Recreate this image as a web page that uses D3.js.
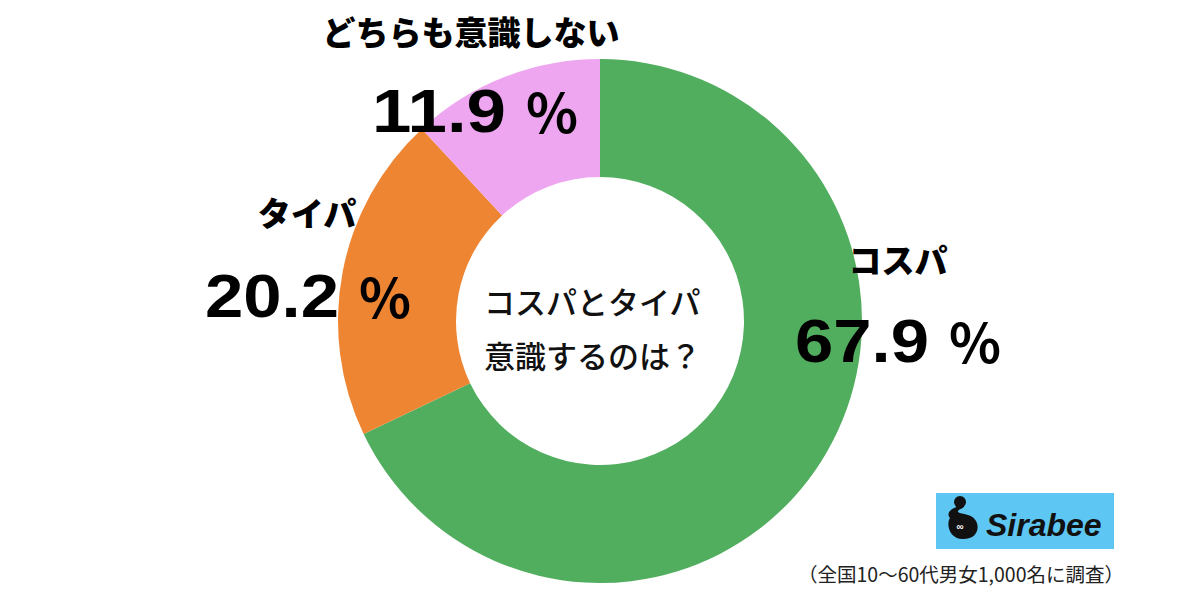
<!DOCTYPE html>
<html><head><meta charset="utf-8">
<script src="https://cdn.jsdelivr.net/npm/d3@7"></script>
<style>html,body{margin:0;padding:0;background:#fff;}svg{display:block;}</style>
</head><body>
<svg id="chart" width="1200" height="594"></svg>
<script>
const categories = ["コスパ", "タイパ", "どちらも意識しない"];
const values = [67.9, 20.2, 11.9];
const colors = ["#52ae5f", "#ee8533", "#eea6f0"];
const titleLines = ["コスパとタイパ", "意識するのは？"];
const footnote = "（全国10〜60代男女1,000名に調査）";

const svg = d3.select("#chart");
const cx = 600, cy = 321, rOut = 262, rIn = 144;
const jp = "'Noto Sans CJK JP', sans-serif";
const num = "'Liberation Sans', Arial, sans-serif";

const pie = d3.pie().sort(null).value(d => d)(values);
const arc = d3.arc().innerRadius(rIn).outerRadius(rOut);
const g = svg.append("g").attr("transform", `translate(${cx},${cy})`);
g.selectAll("path").data(pie).join("path")
  .attr("d", arc).attr("fill", (d, i) => colors[i]);

// labels
const labelPos = [
  {lx: 898, ly: 259, nx: 795, ny: 362},
  {lx: 307, ly: 212, nx: 205, ny: 317},
  {lx: 471, ly: 31, nx: 372, ny: 132}
];
categories.forEach((c, i) => {
  const p = labelPos[i];
  svg.append("text").attr("x", p.lx).attr("y", p.ly)
    .attr("text-anchor", "middle").attr("dominant-baseline", "central")
    .attr("font-family", jp).attr("font-weight", 900).attr("font-size", 33)
    .attr("fill", "#000").text(c);
  svg.append("text").attr("x", p.nx).attr("y", p.ny)
    .attr("fill", "#000")
    .attr("font-family", num).attr("font-weight", 700).attr("font-size", 62)
    .attr("textLength", 134).attr("lengthAdjust", "spacingAndGlyphs")
    .text(values[i].toFixed(1));
  svg.append("text").attr("x", p.nx + 154).attr("y", p.ny + 1)
    .attr("fill", "#000")
    .attr("font-family", jp).attr("font-weight", 700).attr("font-size", 54)
    .text("%");
});

// center title
titleLines.forEach((s, i) => {
  svg.append("text").attr("x", 484).attr("y", 300 + i * 54)
    .attr("dominant-baseline", "central")
    .attr("font-family", jp).attr("font-weight", 500).attr("font-size", 31)
    .attr("fill", "#111").text(s);
});

// logo
const lg = svg.append("g");
lg.append("rect").attr("x", 936).attr("y", 493).attr("width", 178).attr("height", 56).attr("fill", "#5ec6f2");
lg.append("path").attr("d", "M960,506 C950,508 946,514 950,518 C946,524 949,539 963,539 C977,539 980,528 976,521 C972,513 962,515 958,512 C957,509 965,509 964,505 Z").attr("fill", "#111");
lg.append("circle").attr("cx", 960).attr("cy", 502).attr("r", 6).attr("fill", "#111");
lg.append("text").attr("x", 960).attr("y", 530).attr("text-anchor", "middle")
  .attr("font-family", num).attr("font-weight", 700).attr("font-size", 10).attr("fill", "#fff").text("∞");
lg.append("text").attr("x", 986).attr("y", 536)
  .attr("font-family", num).attr("font-weight", 700).attr("font-style", "italic")
  .attr("font-size", 32).attr("fill", "#111").text("Sirabee");

svg.append("text").attr("x", 1124).attr("y", 573).attr("text-anchor", "end")
  .attr("dominant-baseline", "central")
  .attr("font-family", jp).attr("font-weight", 400).attr("font-size", 19.5)
  .attr("fill", "#222").text(footnote);
</script>
</body></html>
